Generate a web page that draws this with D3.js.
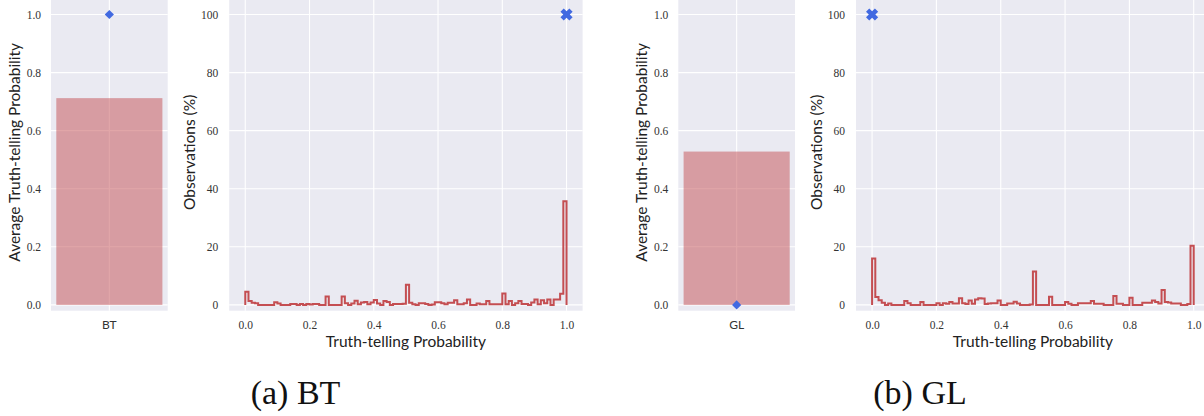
<!DOCTYPE html>
<html>
<head>
<meta charset="utf-8">
<script src="https://cdn.jsdelivr.net/npm/d3@7"></script>
<style>
  html, body { margin: 0; padding: 0; background: #ffffff; }
  svg { display: block; }
</style>
</head>
<body>
<svg id="chart" width="1204" height="416"></svg>
<script>
// ---------------- data ----------------
const categories = ["BT", "GL"];
const avgTruth = [0.712, 0.528];        // bar heights
const diamondValues = [1.0, 0.0];       // blue diamond markers
const peakX = [1.0, 0.0];               // blue X marker (truth-telling prob.)
const peakY = [100, 100];               // blue X marker (observations %)
const captions = ["(a) BT", "(b) GL"];

const barTicks = [0.0, 0.2, 0.4, 0.6, 0.8, 1.0];
const histXTicks = [0.0, 0.2, 0.4, 0.6, 0.8, 1.0];
const histYTicks = [0, 20, 40, 60, 80, 100];

// histogram percentages, 100 bins of width 0.01 over [0, 1]
const histBT = [
  4.5, 1.3, 0.7, 0.6, 0, 0, 0, 0, 0, 0.9,
  0.5, 0, 0, 0, 0.35, 0.35, 0, 0.35, 0, 0.35,
  0.1, 0.35, 0.35, 0, 0, 2.9, 0, 0, 0, 0,
  2.9, 0.6, 0, 0.5, 1.4, 0.2, 0.8, 1.0, 0.2, 0.8,
  1.7, 0.5, 0, 1.3, 1.0, 0, 0.3, 0.3, 0.3, 0.4,
  6.9, 0.7, 0.2, 0, 0.6, 0.6, 0.35, 0, 0.1, 0.9,
  0.9, 0.6, 0.2, 0.7, 0.7, 1.6, 0.2, 0.2, 0.6, 1.9,
  0, 0, 0.45, 0.2, 0.2, 1.3, 0.2, 0.2, 0.2, 0.2,
  3.9, 0.2, 1.3, 0, 0.6, 1.3, 0.35, 0.35, 0, 0.8,
  1.9, 0.2, 1.6, 0.6, 1.9, 0, 1.9, 1.9, 3.8, 35.7
];
const histGL = [
  16.0, 2.7, 1.6, 0.7, 0, 0.5, 0, 0, 0, 0,
  1.3, 0.6, 0, 0, 0, 1.0, 0, 0, 0, 0,
  0.6, 0, 0.6, 0.4, 1.0, 0.5, 0.5, 2.3, 0.6, 0.3,
  1.5, 0.4, 1.9, 2.3, 2.2, 0.3, 0.5, 0.6, 0.6, 1.5,
  0, 0, 0.5, 0.5, 1.1, 0.5, 0, 0, 0, 0.1,
  11.5, 0, 0, 0, 0, 2.8, 0, 0, 0, 0,
  1.0, 0.4, 0, 0, 0.6, 0.6, 0.6, 0.6, 1.3, 0.4,
  0.4, 0.4, 0, 0, 0, 3.1, 0.4, 0.4, 0, 0,
  2.5, 0, 0, 0, 0.7, 0.7, 0.7, 1.5, 1.0, 0.5,
  5.1, 1.0, 0.8, 0.5, 0.5, 0.5, 0, 0, 0.3, 20.4
];
const histData = [histBT, histGL];

// ---------------- styling ----------------
const BG = "#EAEAF2";
const RED = "#C44E52";
const BLUE = "#4169E1";
const SERIF = "'Liberation Serif', 'DejaVu Serif', serif";
const SANS = "Lato, 'Open Sans', sans-serif";
const TICK_COLOR = "#333333";
const PLOT_TOP = 0, PLOT_BOTTOM = 310.7;

const svg = d3.select("#chart");

const groups = [
  { bar: [51, 167.7],  hist: [229.2, 582.6], capX: 295.5 },
  { bar: [678.3, 795], hist: [856, 1209.8],  capX: 920 }
];

const yBar = d3.scaleLinear().domain([-0.02, 1.05]).range([PLOT_BOTTOM, PLOT_TOP]);
const yHist = d3.scaleLinear().domain([-2, 105]).range([PLOT_BOTTOM, PLOT_TOP]);

function diamondPath(r) {
  return `M0,${-r}L${r},0L0,${r}L${-r},0Z`;
}
function xMarkerPath(L, w) {
  // plus shape rotated 45 degrees
  const pts = [[-w,-L],[w,-L],[w,-w],[L,-w],[L,w],[w,w],[w,L],[-w,L],[-w,w],[-L,w],[-L,-w],[-w,-w]];
  const c = Math.SQRT1_2;
  return "M" + pts.map(([x,y]) => `${(x - y) * c},${(x + y) * c}`).join("L") + "Z";
}

groups.forEach((g, gi) => {
  // ---------- bar panel ----------
  const xBar = d3.scaleBand().domain([categories[gi]]).range(g.bar).paddingInner(0).paddingOuter(0);
  const xLin = d3.scaleLinear().domain([-0.44, 0.44]).range(g.bar);
  const bp = svg.append("g");
  bp.append("rect").attr("x", g.bar[0]).attr("y", PLOT_TOP)
    .attr("width", g.bar[1] - g.bar[0]).attr("height", PLOT_BOTTOM - PLOT_TOP).attr("fill", BG);
  // grid
  bp.selectAll("line.hg").data(barTicks).join("line")
    .attr("x1", g.bar[0]).attr("x2", g.bar[1])
    .attr("y1", d => yBar(d)).attr("y2", d => yBar(d))
    .attr("stroke", "#fff").attr("stroke-width", 1.1);
  bp.append("line").attr("x1", xLin(0)).attr("x2", xLin(0))
    .attr("y1", PLOT_TOP).attr("y2", PLOT_BOTTOM).attr("stroke", "#fff").attr("stroke-width", 1.1);
  // bar
  bp.append("rect")
    .attr("x", xLin(-0.4)).attr("width", xLin(0.4) - xLin(-0.4))
    .attr("y", yBar(avgTruth[gi])).attr("height", yBar(0) - yBar(avgTruth[gi]))
    .attr("fill", RED).attr("fill-opacity", 0.5);
  // diamond marker
  bp.append("path").attr("d", diamondPath(4.6))
    .attr("transform", `translate(${xLin(0)},${yBar(diamondValues[gi])})`)
    .attr("fill", BLUE);
  // y tick labels
  const yAxisBar = d3.axisLeft(yBar).tickValues(barTicks).tickFormat(d3.format(".1f")).tickSize(0).tickPadding(10);
  const ya = bp.append("g").attr("transform", `translate(${g.bar[0]},0)`).call(yAxisBar);
  ya.select(".domain").remove();
  ya.selectAll("text").attr("font-family", SERIF).attr("font-size", 11.5).attr("fill", TICK_COLOR);
  // x tick label (category)
  const xa = bp.append("g").attr("transform", `translate(0,${PLOT_BOTTOM})`)
    .call(d3.axisBottom(xBar).tickSize(0).tickPadding(10));
  xa.select(".domain").remove();
  xa.selectAll("text").attr("font-family", SANS).attr("font-size", 12).attr("fill", TICK_COLOR);
  // y label
  bp.append("text").attr("transform", `translate(${g.bar[0] - 31},${(PLOT_TOP + PLOT_BOTTOM) / 2 - 3}) rotate(-90)`)
    .attr("text-anchor", "middle").attr("font-family", SANS).attr("font-size", 15.5).attr("fill", "#222")
    .text("Average Truth-telling Probability");

  // ---------- histogram panel ----------
  const xH = d3.scaleLinear().domain([-0.05, 1.05]).range(g.hist);
  const hp = svg.append("g");
  hp.append("rect").attr("x", g.hist[0]).attr("y", PLOT_TOP)
    .attr("width", g.hist[1] - g.hist[0]).attr("height", PLOT_BOTTOM - PLOT_TOP).attr("fill", BG);
  hp.selectAll("line.hg").data(histYTicks).join("line")
    .attr("x1", g.hist[0]).attr("x2", g.hist[1])
    .attr("y1", d => yHist(d)).attr("y2", d => yHist(d))
    .attr("stroke", "#fff").attr("stroke-width", 1.1);
  hp.selectAll("line.vg").data(histXTicks).join("line")
    .attr("x1", d => xH(d)).attr("x2", d => xH(d))
    .attr("y1", PLOT_TOP).attr("y2", PLOT_BOTTOM)
    .attr("stroke", "#fff").attr("stroke-width", 1.1);
  // step outline
  const vals = histData[gi];
  const n = vals.length;
  let d = `M${xH(0)},${yHist(0)}`;
  vals.forEach((v, i) => {
    d += `V${yHist(v)}H${xH((i + 1) / n)}`;
  });
  d += `V${yHist(0)}`;
  hp.append("path").attr("d", d).attr("fill", "none")
    .attr("stroke", RED).attr("stroke-width", 2).attr("stroke-linejoin", "miter");
  // X marker
  hp.append("path").attr("d", xMarkerPath(6.3, 2.3))
    .attr("transform", `translate(${xH(peakX[gi])},${yHist(peakY[gi])})`)
    .attr("fill", BLUE);
  // axes labels
  const yaH = hp.append("g").attr("transform", `translate(${g.hist[0]},0)`)
    .call(d3.axisLeft(yHist).tickValues(histYTicks).tickSize(0).tickPadding(11));
  yaH.select(".domain").remove();
  yaH.selectAll("text").attr("font-family", SERIF).attr("font-size", 11.5).attr("fill", TICK_COLOR);
  const xaH = hp.append("g").attr("transform", `translate(0,${PLOT_BOTTOM})`)
    .call(d3.axisBottom(xH).tickValues(histXTicks).tickFormat(d3.format(".1f")).tickSize(0).tickPadding(10));
  xaH.select(".domain").remove();
  xaH.selectAll("text").attr("font-family", SERIF).attr("font-size", 11.5).attr("fill", TICK_COLOR);
  hp.append("text").attr("transform", `translate(${g.hist[0] - 34},${(PLOT_TOP + PLOT_BOTTOM) / 2 - 3}) rotate(-90)`)
    .attr("text-anchor", "middle").attr("font-family", SANS).attr("font-size", 15.5).attr("fill", "#222")
    .text("Observations (%)");
  hp.append("text").attr("x", xH(0.5)).attr("y", 347)
    .attr("text-anchor", "middle").attr("font-family", SANS).attr("font-size", 15.5).attr("fill", "#222")
    .text("Truth-telling Probability");

  // caption
  svg.append("text").attr("x", g.capX).attr("y", 404)
    .attr("text-anchor", "middle").attr("font-family", SERIF).attr("font-size", 34).attr("fill", "#111")
    .text(captions[gi]);
});
</script>
</body>
</html>
